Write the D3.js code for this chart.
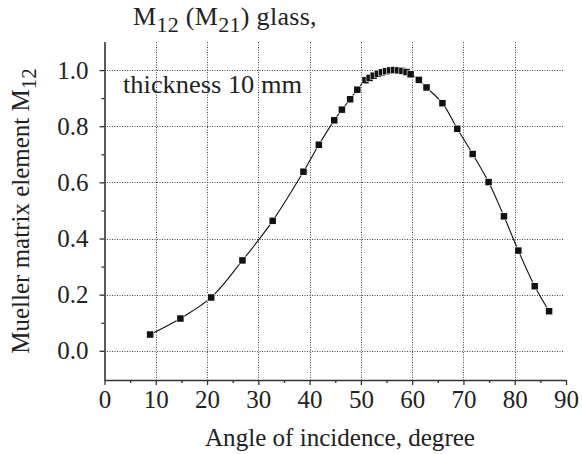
<!DOCTYPE html>
<html>
<head>
<meta charset="utf-8">
<script src="https://cdn.jsdelivr.net/npm/d3@7"></script>
<style>
  html, body { margin: 0; padding: 0; background: #fff; }
  svg { display: block; }
</style>
</head>
<body>
<svg id="chart" width="582" height="454"></svg>
<script>
// ---- data ----
const angles = [8.9, 14.8, 20.8, 26.9, 32.8, 38.8, 41.8, 44.8, 46.3, 47.9, 49.3,
  50.9, 51.7, 52.5, 53.3, 54.1, 54.9, 55.7, 56.5, 57.3, 58.1, 58.9, 59.7,
  61.3, 62.8, 65.9, 68.8, 71.8, 74.9, 77.9, 80.7, 83.9, 86.7];
const m12 = [0.058, 0.115, 0.190, 0.322, 0.463, 0.638, 0.734, 0.821, 0.859, 0.896, 0.930,
  0.964, 0.972, 0.980, 0.987, 0.992, 0.996, 0.999, 1.000, 0.999, 0.997, 0.993, 0.985,
  0.965, 0.938, 0.882, 0.791, 0.701, 0.601, 0.479, 0.357, 0.230, 0.141];
const xTicks = [0, 10, 20, 30, 40, 50, 60, 70, 80, 90];
const xMinorTicks = [5, 15, 25, 35, 45, 55, 65, 75, 85];
const yTicks = [0.0, 0.2, 0.4, 0.6, 0.8, 1.0];
const yMinorTicks = [0.1, 0.3, 0.5, 0.7, 0.9];
const xGrid = [10, 20, 30, 40, 50, 60, 70, 80];
const yGrid = [0.0, 0.2, 0.4, 0.6, 0.8, 1.0];

const FONT = '"Liberation Serif", "Times New Roman", Times, serif';

const svg = d3.select("#chart");
const x = d3.scaleLinear().domain([0, 90]).range([104.5, 566]);
const y = d3.scaleLinear().domain([-0.104, 1.1]).range([380, 42]);
const axisColor = "#333";

// grid
const grid = svg.append("g").attr("stroke", "#444").attr("stroke-width", 1)
  .attr("stroke-dasharray", "1,1.5").attr("fill", "none");
grid.selectAll("line.v").data(xGrid).join("line").attr("class", "v")
  .attr("x1", d => Math.round(x(d)) + 0.5).attr("x2", d => Math.round(x(d)) + 0.5)
  .attr("y1", y.range()[1]).attr("y2", y.range()[0]);
grid.selectAll("line.h").data(yGrid).join("line").attr("class", "h")
  .attr("x1", x.range()[0]).attr("x2", 563)
  .attr("y1", d => Math.round(y(d)) + 0.5).attr("y2", d => Math.round(y(d)) + 0.5);

// axes
const fmtY = d3.format(".1f");
const gx = svg.append("g").attr("transform", "translate(0,380)")
  .call(d3.axisBottom(x).tickValues(xTicks).tickSize(5).tickPadding(5).tickFormat(d3.format("d")));
const gxm = svg.append("g").attr("transform", "translate(0,380)")
  .call(d3.axisBottom(x).tickValues(xMinorTicks).tickSize(3).tickFormat(""));
gxm.select(".domain").remove();
const gy = svg.append("g").attr("transform", "translate(104.5,0)")
  .call(d3.axisLeft(y).tickValues(yTicks).tickSize(5).tickPadding(11).tickFormat(fmtY));
const gym = svg.append("g").attr("transform", "translate(104.5,0)")
  .call(d3.axisLeft(y).tickValues(yMinorTicks).tickSize(3).tickFormat(""));
gym.select(".domain").remove();
[gx, gxm, gy, gym].forEach(g => {
  g.attr("font-family", FONT);
  g.selectAll(".domain").attr("stroke", axisColor).attr("stroke-width", 1.6);
  g.selectAll(".tick line").attr("stroke", axisColor).attr("stroke-width", 1.3);
  g.selectAll(".tick text").attr("font-family", FONT).attr("font-size", 25).attr("fill", "#222");
});
gx.selectAll(".domain").attr("d", `M${x.range()[0]},0.5H${x.range()[1]}`);
gy.selectAll(".domain").attr("d", `M0.5,${y.range()[0]}V${y.range()[1]}`);

// curve
const pts = angles.map((a, i) => [a, m12[i]]);
const line = d3.line().x(d => x(d[0])).y(d => y(d[1])).curve(d3.curveCatmullRom);
svg.append("path").datum(pts).attr("d", line)
  .attr("fill", "none").attr("stroke", "#111").attr("stroke-width", 1.1);

// markers with a small white gap
const s = 6.5;
svg.append("g").selectAll("rect").data(pts).join("rect")
  .attr("x", d => x(d[0]) - s / 2).attr("y", d => y(d[1]) - s / 2)
  .attr("width", s).attr("height", s)
  .attr("fill", "#111").attr("stroke", "#fff").attr("stroke-width", 1.2)
  .attr("paint-order", "stroke");

// texts
const T = (sel) => sel.attr("font-family", FONT).attr("fill", "#222");
const title = T(svg.append("text")).attr("x", 133).attr("y", 25).attr("font-size", 26)
  .attr("letter-spacing", 0.3);
title.append("tspan").text("M");
title.append("tspan").attr("dy", 7).attr("font-size", 22).text("12");
title.append("tspan").attr("dy", -7).text(" (M");
title.append("tspan").attr("dy", 7).attr("font-size", 22).text("21");
title.append("tspan").attr("dy", -7).text(") glass,");

T(svg.append("text")).attr("x", 123).attr("y", 93).attr("font-size", 25)
  .attr("textLength", 179).attr("lengthAdjust", "spacingAndGlyphs").text("thickness 10 mm");

T(svg.append("text")).attr("x", 205).attr("y", 446)
  .attr("font-size", 25).attr("textLength", 270).attr("lengthAdjust", "spacingAndGlyphs")
  .text("Angle of incidence, degree");

const yl = T(svg.append("text")).attr("transform", "translate(29,211) rotate(-90)")
  .attr("text-anchor", "middle").attr("font-size", 25);
yl.append("tspan").text("Mueller matrix element M");
yl.append("tspan").attr("dy", 7).attr("font-size", 21).text("12");
</script>
</body>
</html>
